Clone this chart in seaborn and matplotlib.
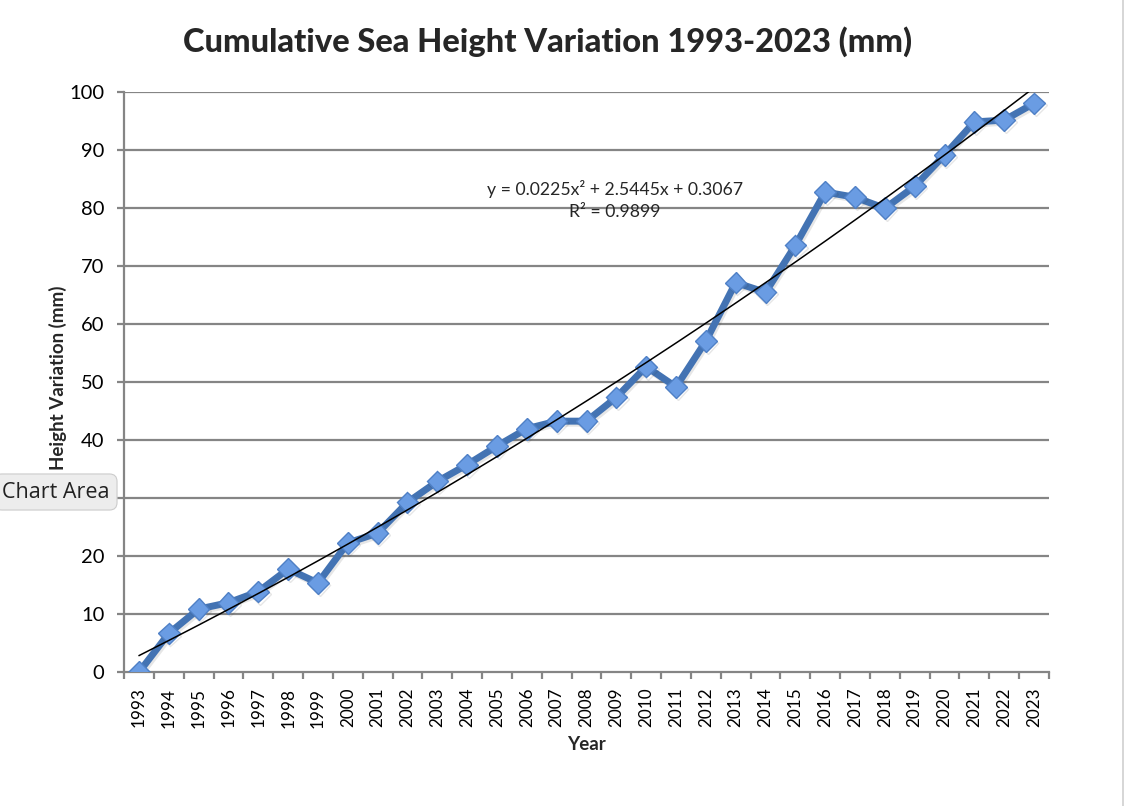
import matplotlib
matplotlib.use("Agg")
import matplotlib.pyplot as plt
import matplotlib.patheffects as pe
from matplotlib.lines import Line2D
import seaborn as sns
import pandas as pd
import numpy as np

# dados
anos = list(range(1993, 2024))
variacao = [0.0, 6.7, 10.9, 12.0, 13.9, 17.8, 15.4, 22.3, 24.0, 29.3,
            32.9, 35.8, 39.0, 42.0, 43.3, 43.3, 47.4, 52.7, 49.2, 57.1,
            67.2, 65.5, 73.6, 82.8, 81.9, 80.0, 83.8, 89.2, 94.9, 95.2,
            98.1]
# coeficientes da linha de tendencia (polinomio de 2a ordem)
coef_tendencia = [0.0225, 2.5445, 0.3067]
r2 = 0.9899

df = pd.DataFrame({"pos": np.arange(len(anos)), "ano": anos, "var": variacao})

sns.set_theme(style="white")
plt.rcParams['font.family'] = ['Lato', 'DejaVu Sans']

W, H = 1124, 806
fig = plt.figure(figsize=(W / 100, H / 100), dpi=100)
ax = fig.add_axes([124 / W, 1 - 672.3 / H, (1049 - 124) / W, (672.3 - 92.3) / H])

# grades
for v in range(10, 101, 10):
    ax.axhline(v, color='#858585', linewidth=1.6, zorder=1)

# linha de tendencia
xt = np.linspace(1, len(anos), 300)
yt = np.polyval(coef_tendencia, xt)
ax.plot(xt - 1, yt, color='black', linewidth=1.1, zorder=4)

# serie principal
sns.lineplot(data=df, x="pos", y="var", ax=ax, color='#4373B3',
             linewidth=5.0, marker='D', markersize=11,
             markerfacecolor='#6A9CE3', markeredgecolor='#4F80C6',
             markeredgewidth=1.0, zorder=3,
             path_effects=[pe.SimpleLineShadow(offset=(1.2, -1.5), alpha=0.12,
                                               shadow_color='#333333'),
                           pe.Normal()])

ax.set_xlim(-0.5, len(anos) - 0.5)
ax.set_ylim(0, 100)
ax.set_yticks(range(0, 101, 10))
ax.set_xticks(df["pos"])
ax.set_xticklabels([str(a) for a in anos], rotation=90)
ax.set_xticks(np.arange(-0.5, len(anos), 1), minor=True)

ax.tick_params(axis='x', which='major', length=0, pad=11, labelsize=12.3,
               labelcolor='black')
ax.tick_params(axis='x', which='minor', length=5, width=1.6, color='#858585',
               direction='out', bottom=True)
ax.tick_params(axis='y', length=5, width=1.6, color='#858585', direction='out',
               left=True, pad=9, labelsize=14.5, labelcolor='black')

for s in ['top', 'right']:
    ax.spines[s].set_visible(False)
for s in ['left', 'bottom']:
    ax.spines[s].set_color('#858585')
    ax.spines[s].set_linewidth(1.6)

ax.set_xlabel("")
ax.set_ylabel("")

fig.text(548 / W, 1 - 42 / H, "Cumulative Sea Height Variation 1993-2023 (mm)",
         ha='center', va='center', fontsize=23.5, fontweight='black')
fig.text(58 / W, 1 - 378 / H, "Height Variation (mm)", rotation=90,
         ha='center', va='center', fontsize=13.5, fontweight='bold')
fig.text(586 / W, 1 - 745 / H, "Year", ha='center', va='center',
         fontsize=13.5, fontweight='bold')

a, b, c = coef_tendencia
ax.text(15.95, 81.4, f"y = {a}x² + {b}x + {c}\nR² = {r2}",
        ha='center', va='center', fontsize=12.7, linespacing=1.45, zorder=5)

# borda direita da area do grafico
fig.add_artist(Line2D([1122.5 / W, 1122.5 / W], [0, 1], color='#D0D0D0',
                      linewidth=1.2, transform=fig.transFigure))

# dica "Chart Area" sobreposta
fig.text(2 / W, 1 - 492 / H, "Chart Area", ha='left', va='center',
         fontsize=15.5, family=['Open Sans', 'DejaVu Sans'], color='#222222',
         bbox=dict(boxstyle='round,pad=0.35', facecolor='#EDEDED',
                   edgecolor='#CCCCCC', linewidth=0.8),
         zorder=10)

fig.savefig("out.png", dpi=100, facecolor='white')
